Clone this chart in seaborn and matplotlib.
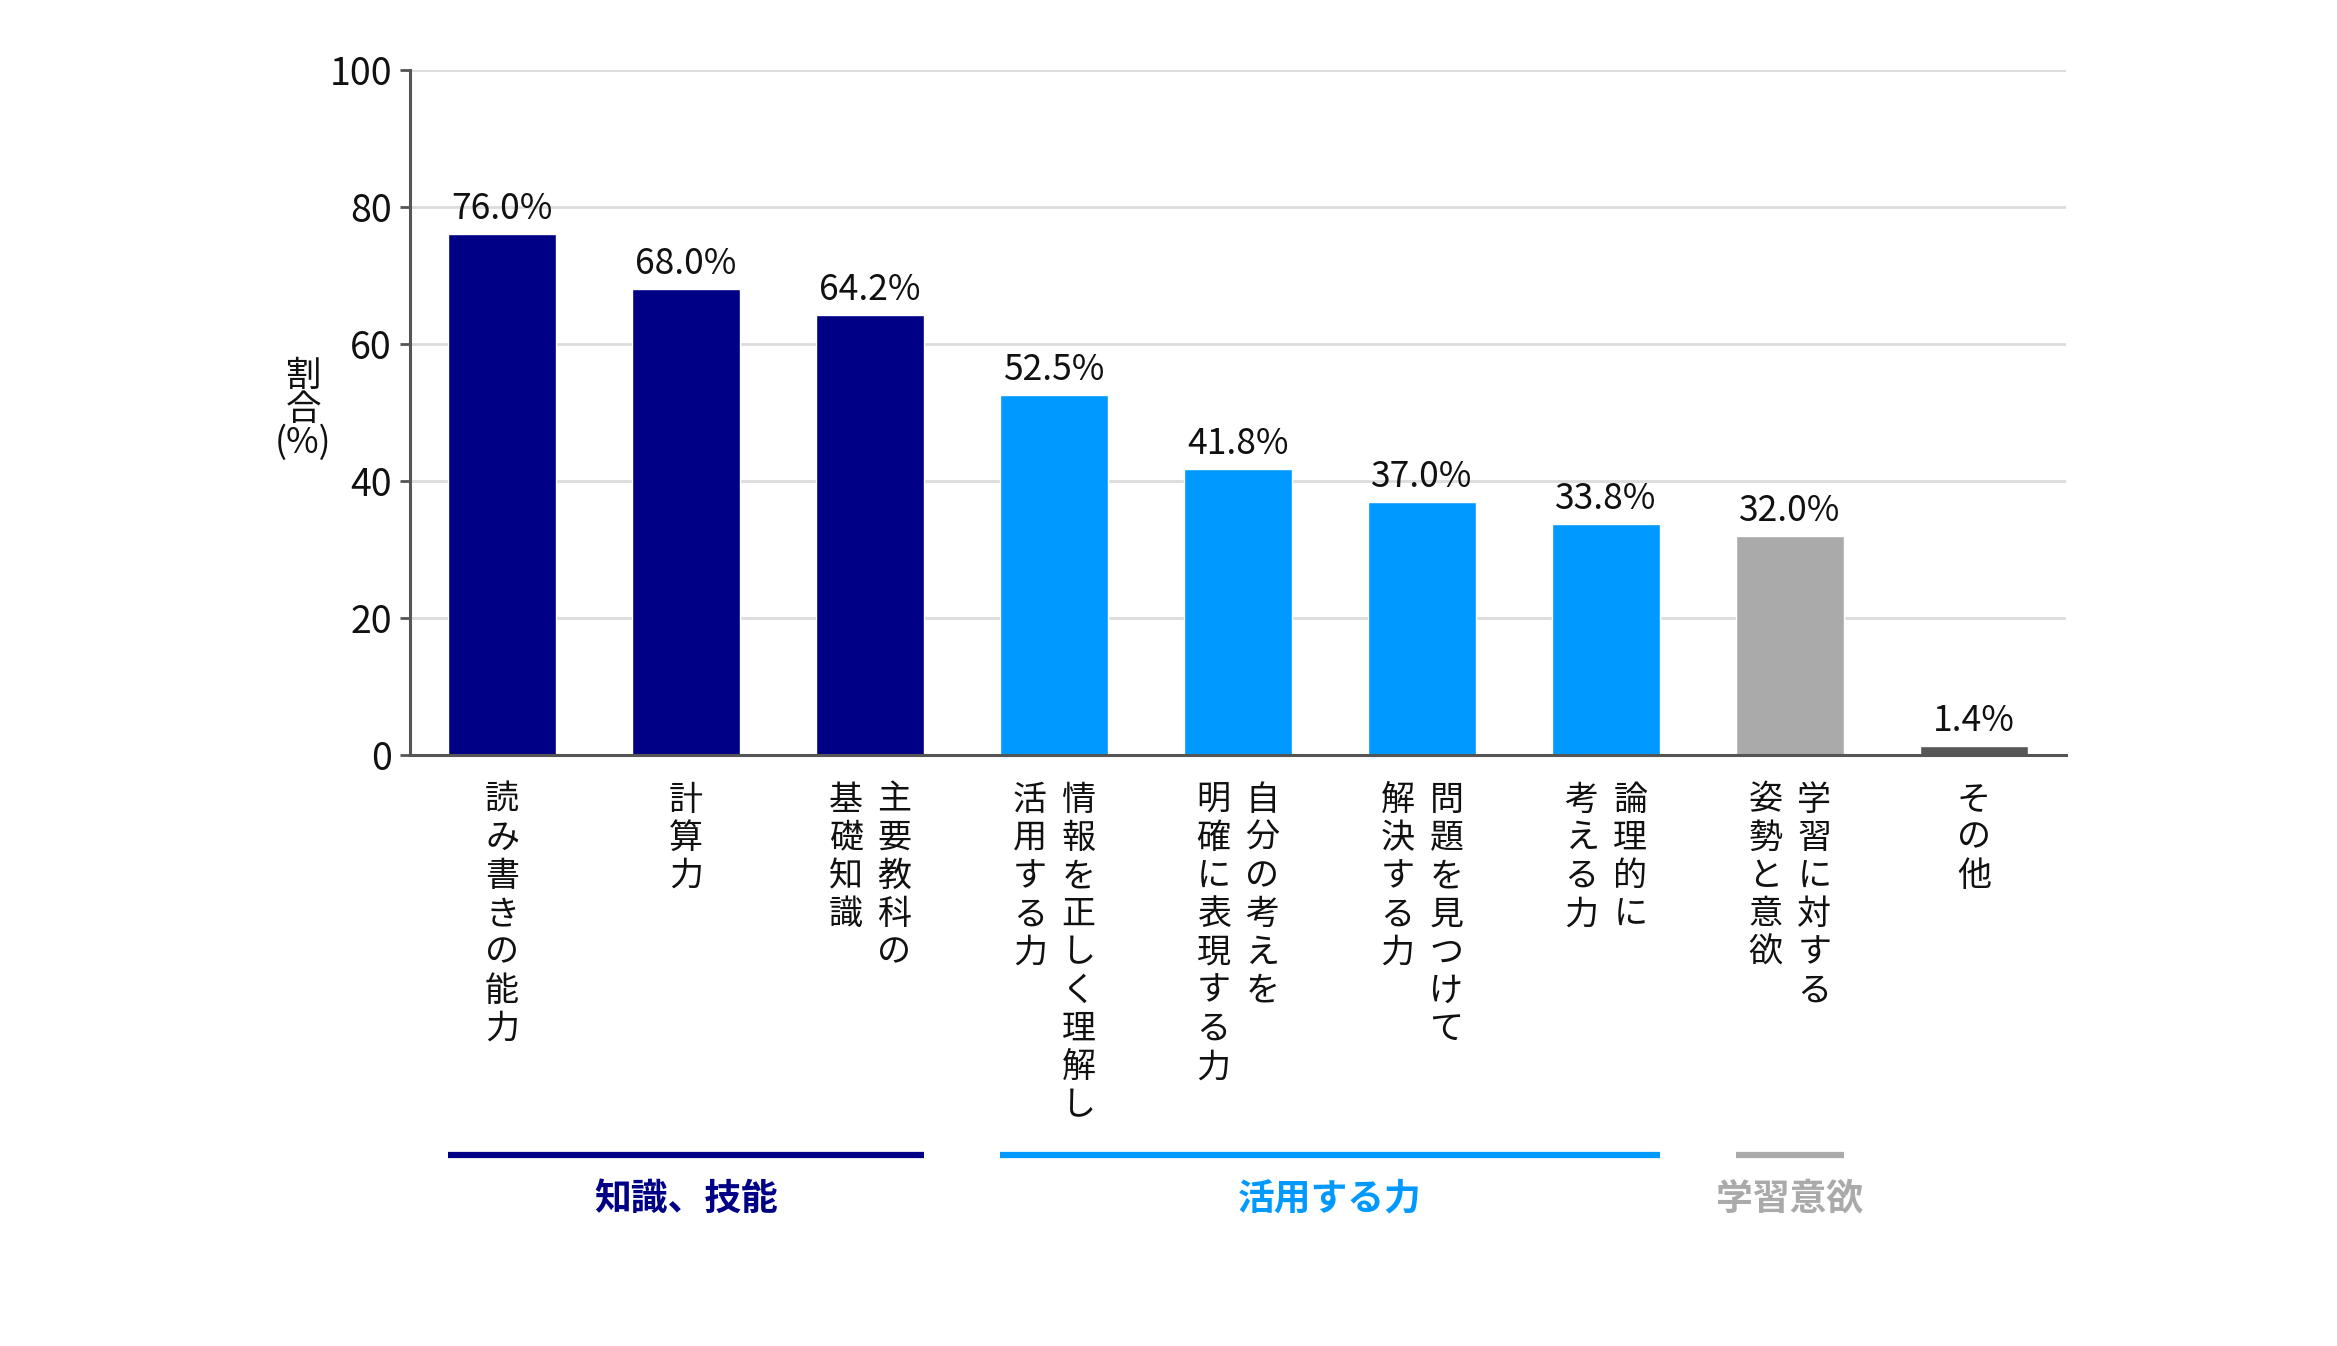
import matplotlib.pyplot as plt
from matplotlib.transforms import blended_transform_factory
import seaborn as sns
import pandas as pd

# data
categories = ['読み書きの能力', '計算力', '主要教科の基礎知識', '情報を正しく理解し活用する力',
              '自分の考えを明確に表現する力', '問題を見つけて解決する力', '論理的に考える力',
              '学習に対する姿勢と意欲', 'その他']
label_columns = [['読み書きの能力'], ['計算力'], ['主要教科の', '基礎知識'],
                 ['情報を正しく理解し', '活用する力'], ['自分の考えを', '明確に表現する力'],
                 ['問題を見つけて', '解決する力'], ['論理的に', '考える力'],
                 ['学習に対する', '姿勢と意欲'], ['その他']]
values = [76.0, 68.0, 64.2, 52.5, 41.8, 37.0, 33.8, 32.0, 1.4]
bar_colors = ['#000086', '#000086', '#000086', '#0099FF', '#0099FF', '#0099FF', '#0099FF',
              '#AAAAAA', '#575757']
groups = ['知識、技能', '活用する力', '学習意欲']
group_span = [(0, 2), (3, 6), (7, 7)]
group_colors = ['#000086', '#0099FF', '#AAAAAA']
yticks = [0, 20, 40, 60, 80, 100]

sns.set_style('white')
plt.rcParams['font.family'] = ['Noto Sans CJK JP', 'DejaVu Sans']

df = pd.DataFrame({'cat': categories, 'val': values})

fig = plt.figure(figsize=(23.37, 13.46), dpi=100)
ax = fig.add_axes([0.1755, 0.439, 0.7085, 0.509])

sns.barplot(data=df, x='cat', y='val', hue='cat', palette=bar_colors, legend=False,
            width=0.59, saturation=1, ax=ax)

for c in ax.containers:
    ax.bar_label(c, fmt='{:.1f}%', padding=5, fontsize=25.5, color='#111111')

ax.set_xlim(-0.5, len(categories) - 0.5)
ax.set_ylim(0, 100)
ax.set_yticks(yticks)
ax.yaxis.grid(True, color='#dcdcdc', linewidth=2)
ax.set_axisbelow(True)
ax.tick_params(axis='y', labelsize=27, length=7, width=2, color='#555555', pad=6,
               left=True, labelcolor='#111111')
ax.tick_params(axis='x', bottom=False, labelbottom=False)
for s in ['top', 'right']:
    ax.spines[s].set_visible(False)
for s in ['left', 'bottom']:
    ax.spines[s].set_color('#555555')
    ax.spines[s].set_linewidth(2.2)
ax.set_xlabel('')
ax.set_ylabel('')

trans = blended_transform_factory(ax.transData, ax.transAxes)

# vertical category labels (columns run right to left)
col_gap = 0.265
for i, cols in enumerate(label_columns):
    n = len(cols)
    for j, col in enumerate(cols):
        x = i + ((n - 1) / 2 - j) * col_gap
        ax.text(x, -0.04, '\n'.join(col), transform=trans, ha='center', va='top',
                fontsize=24.5, linespacing=1.12, color='#111111')

# group brackets
for name, (a, b), col in zip(groups, group_span, group_colors):
    ax.plot([a - 0.295, b + 0.295], [-0.583, -0.583], transform=trans, color=col,
            linewidth=4.5, clip_on=False, solid_capstyle='butt')
    ax.text((a + b) / 2, -0.648, name, transform=trans, ha='center', va='center',
            fontsize=26.5, fontweight='bold', color=col)

ax.text(-0.0647, 0.504, '割\n合\n(%)', transform=ax.transAxes, ha='center', va='center',
        fontsize=25.5, linespacing=0.9, color='#111111')

fig.savefig('out.png', dpi=100)
